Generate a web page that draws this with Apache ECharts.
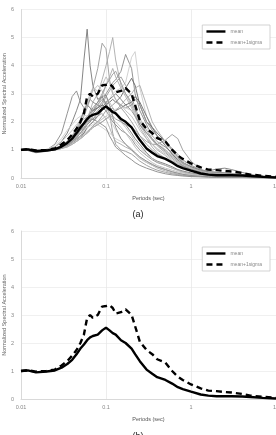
<!DOCTYPE html>
<html><head><meta charset="utf-8">
<script src="https://cdn.jsdelivr.net/npm/echarts@6/dist/echarts.min.js"></script>
<style>html,body{margin:0;padding:0;background:#fff}#c{width:276px;height:435px}</style>
</head><body><div id="c"></div>
<script>
const periods = [0.01,0.012,0.015,0.02,0.025,0.03,0.035,0.04,0.045,0.05,0.055,0.06,0.065,0.07,0.08,0.09,0.1,0.11,0.12,0.13,0.15,0.17,0.2,0.22,0.25,0.3,0.35,0.4,0.5,0.6,0.7,0.8,1.0,1.3,1.6,2,2.5,3,4,5,7,10];
const meanVals = [1.0,1.02,0.95,0.98,1.02,1.12,1.25,1.4,1.6,1.8,1.95,2.1,2.2,2.25,2.3,2.45,2.55,2.45,2.35,2.3,2.1,2.0,1.8,1.6,1.35,1.05,0.9,0.78,0.68,0.55,0.42,0.35,0.26,0.16,0.12,0.1,0.1,0.1,0.09,0.07,0.04,0.02];
const meanSigmaVals = [1.0,1.03,0.98,1.0,1.05,1.2,1.35,1.55,1.75,2.0,2.3,2.9,3.0,2.9,3.0,3.3,3.32,3.35,3.25,3.05,3.1,3.2,3.0,2.6,2.05,1.75,1.6,1.42,1.3,1.0,0.8,0.68,0.52,0.38,0.3,0.28,0.25,0.23,0.18,0.12,0.08,0.04];
const rec01 = [1.0,1.0,0.95,1.0,1.1,1.3,1.6,2.0,2.4,2.8,4.2,5.3,4.0,3.3,2.8,2.9,2.6,2.4,2.5,2.3,2.0,1.9,1.6,1.4,1.2,0.9,0.7,0.6,0.5,0.4,0.3,0.25,0.18,0.12,0.09,0.08,0.07,0.06,0.05,0.04,0.03,0.02];
const rec02 = [1.0,1.02,0.98,1.0,1.05,1.15,1.3,1.5,1.7,1.9,2.2,2.5,2.8,3.2,3.9,4.8,4.6,3.5,3.0,2.8,2.5,2.3,2.0,1.8,1.5,1.2,1.0,0.85,0.7,0.55,0.45,0.35,0.25,0.17,0.12,0.1,0.09,0.08,0.07,0.05,0.03,0.02];
const rec03 = [1.0,1.0,0.97,1.0,1.05,1.1,1.2,1.35,1.5,1.7,1.9,2.1,2.4,2.7,3.0,3.5,4.0,4.5,5.0,4.2,3.3,3.0,2.6,2.3,1.9,1.5,1.2,1.0,0.8,0.6,0.5,0.4,0.3,0.2,0.15,0.12,0.1,0.09,0.07,0.05,0.03,0.02];
const rec04 = [1.0,1.0,0.96,0.98,1.02,1.1,1.2,1.35,1.5,1.7,1.9,2.0,2.2,2.3,2.5,2.7,3.0,3.2,3.4,3.5,3.8,4.4,3.9,3.0,2.4,1.9,1.5,1.3,1.1,0.9,0.7,0.55,0.4,0.25,0.18,0.15,0.13,0.12,0.1,0.08,0.05,0.03];
const rec05 = [1.0,1.0,0.98,1.0,1.02,1.08,1.15,1.25,1.35,1.5,1.6,1.75,1.9,2.0,2.2,2.4,2.6,2.8,3.0,3.1,3.2,3.4,4.3,4.5,3.2,2.2,1.7,1.5,1.2,1.0,0.8,0.6,0.45,0.3,0.2,0.17,0.15,0.13,0.1,0.08,0.05,0.03];
const rec06 = [1.0,1.05,1.0,1.0,1.2,1.6,2.3,2.9,3.1,2.7,2.5,2.6,2.8,2.7,2.6,2.5,2.4,2.2,2.0,1.9,1.7,1.6,1.4,1.2,1.0,0.8,0.65,0.55,0.45,0.35,0.28,0.22,0.15,0.1,0.08,0.07,0.06,0.05,0.04,0.03,0.02,0.01];
const rec07 = [1.0,1.02,0.95,0.98,1.0,1.1,1.2,1.3,1.4,1.5,1.6,1.8,1.9,2.0,2.2,2.4,2.6,2.7,2.8,2.7,2.9,3.2,3.55,3.3,2.6,2.0,1.8,1.6,1.3,1.0,0.75,0.55,0.4,0.28,0.22,0.2,0.18,0.15,0.12,0.09,0.06,0.03];
const rec08 = [1.0,1.0,0.95,0.97,1.0,1.05,1.1,1.2,1.3,1.4,1.5,1.6,1.7,1.8,1.9,2.0,2.1,2.2,2.2,2.1,2.0,1.9,1.8,1.7,1.5,1.3,1.2,1.2,1.35,1.55,1.4,1.0,0.6,0.3,0.2,0.15,0.12,0.1,0.08,0.06,0.04,0.02];
const rec09 = [1.0,1.0,0.96,0.98,1.02,1.1,1.25,1.4,1.6,1.8,2.0,2.2,2.3,2.4,2.6,2.8,2.7,2.3,1.6,1.2,1.0,0.95,0.85,0.75,0.6,0.45,0.35,0.28,0.2,0.15,0.12,0.1,0.07,0.05,0.04,0.03,0.03,0.02,0.02,0.01,0.01,0.01];
const rec10 = [1.0,1.0,0.98,1.0,1.05,1.15,1.3,1.45,1.6,1.7,1.8,1.9,2.0,2.1,2.2,2.3,2.1,1.8,1.5,1.3,1.2,1.1,1.0,0.85,0.7,0.55,0.45,0.35,0.25,0.18,0.14,0.1,0.08,0.06,0.05,0.04,0.03,0.03,0.02,0.02,0.01,0.01];
const rec11 = [1.0,1.0,0.97,1.0,1.1,1.3,1.5,1.7,1.9,2.0,2.1,2.2,2.3,2.4,2.5,2.6,2.5,2.3,2.1,2.0,1.8,1.6,1.3,1.1,0.9,0.7,0.55,0.45,0.35,0.28,0.22,0.18,0.12,0.09,0.07,0.06,0.05,0.05,0.04,0.03,0.02,0.01];
const rec12 = [1.0,0.98,0.9,0.95,1.0,1.05,1.15,1.3,1.45,1.6,1.75,1.9,2.0,2.1,2.3,2.5,2.7,2.8,2.9,3.0,2.8,2.6,2.4,2.2,1.9,1.6,1.4,1.2,1.0,0.8,0.6,0.45,0.3,0.22,0.25,0.32,0.35,0.3,0.2,0.12,0.07,0.03];
const rec13 = [1.0,1.0,0.98,1.02,1.15,1.4,1.7,1.9,2.1,2.2,2.25,2.2,2.1,2.0,1.9,1.8,1.7,1.6,1.5,1.4,1.3,1.2,1.05,0.9,0.75,0.6,0.5,0.4,0.3,0.22,0.17,0.13,0.09,0.07,0.06,0.05,0.04,0.04,0.03,0.02,0.02,0.01];
const rec14 = [1.0,1.0,0.95,1.0,1.03,1.1,1.2,1.3,1.45,1.6,1.7,1.9,2.0,2.2,2.4,2.6,2.9,3.1,3.3,3.4,3.6,3.3,2.9,2.5,2.1,1.7,1.4,1.2,0.95,0.75,0.6,0.45,0.32,0.22,0.17,0.15,0.13,0.12,0.1,0.08,0.05,0.03];
const rec15 = [1.0,1.0,0.97,1.0,1.03,1.1,1.2,1.3,1.4,1.5,1.7,1.9,2.1,2.3,2.6,2.9,3.3,3.6,3.9,3.6,3.2,2.9,2.5,2.2,1.8,1.4,1.1,0.9,0.7,0.55,0.42,0.33,0.23,0.15,0.11,0.09,0.08,0.07,0.06,0.05,0.03,0.02];
const rec16 = [1.0,1.0,0.97,1.0,1.05,1.15,1.3,1.5,1.7,1.85,1.95,2.0,2.05,2.1,2.0,1.9,1.8,1.5,1.3,1.1,0.95,0.8,0.65,0.55,0.45,0.35,0.28,0.22,0.15,0.11,0.09,0.07,0.05,0.04,0.03,0.03,0.02,0.02,0.02,0.01,0.01,0.01];
const rec17 = [1.0,1.0,0.96,1.0,1.05,1.15,1.3,1.5,1.8,2.1,2.4,2.7,3.0,3.2,3.1,3.3,3.6,3.4,3.0,2.8,2.6,2.4,2.2,2.0,1.7,1.4,1.2,1.05,0.85,0.65,0.5,0.4,0.28,0.18,0.13,0.11,0.1,0.09,0.07,0.05,0.03,0.02];
const rec18 = [1.0,1.0,0.95,0.98,1.02,1.1,1.25,1.45,1.7,2.0,2.4,2.6,2.5,2.4,2.5,2.6,2.5,2.4,2.3,2.4,2.5,2.6,2.7,2.9,2.7,2.2,1.8,1.5,1.15,0.85,0.65,0.5,0.35,0.22,0.16,0.14,0.12,0.11,0.09,0.07,0.04,0.02];
const rec19 = [1.0,1.0,0.98,1.0,1.05,1.12,1.22,1.35,1.5,1.6,1.7,1.8,1.85,1.9,2.0,2.1,2.2,2.1,1.9,1.7,1.4,1.2,1.0,0.85,0.7,0.55,0.45,0.38,0.3,0.24,0.19,0.15,0.1,0.07,0.06,0.05,0.04,0.04,0.03,0.02,0.02,0.01];
const rec20 = [1.0,1.0,0.97,1.0,1.03,1.08,1.15,1.25,1.35,1.45,1.55,1.65,1.75,1.85,2.0,2.2,2.4,2.5,2.6,2.7,2.6,2.5,2.6,2.8,2.6,2.0,1.7,1.5,1.3,1.05,0.85,0.65,0.45,0.3,0.24,0.2,0.18,0.15,0.12,0.09,0.05,0.03];
const rec21 = [1.0,1.0,0.97,1.0,1.05,1.15,1.3,1.5,1.75,2.0,2.3,2.6,2.9,3.1,3.3,3.1,2.9,2.7,2.5,2.3,2.0,1.8,1.5,1.3,1.1,0.85,0.7,0.58,0.45,0.35,0.27,0.21,0.15,0.1,0.08,0.07,0.06,0.06,0.05,0.04,0.02,0.01];
const rec22 = [1.0,1.0,0.96,0.99,1.03,1.1,1.2,1.3,1.45,1.6,1.8,2.0,2.2,2.4,2.7,3.0,3.3,3.5,3.7,3.8,3.4,3.0,2.7,2.4,2.0,1.6,1.35,1.15,0.9,0.7,0.55,0.42,0.3,0.2,0.15,0.13,0.12,0.11,0.09,0.07,0.04,0.02];
const rec23 = [1.0,1.0,0.98,1.0,1.02,1.06,1.12,1.2,1.3,1.4,1.5,1.6,1.7,1.8,1.95,2.1,2.2,2.3,2.4,2.45,2.5,2.5,2.4,2.3,2.1,1.8,1.5,1.3,1.0,0.8,0.6,0.48,0.35,0.24,0.18,0.15,0.13,0.12,0.1,0.07,0.04,0.02];
const rec24 = [1.0,1.0,0.95,0.98,1.03,1.12,1.25,1.4,1.55,1.7,1.9,2.1,2.3,2.5,2.7,2.9,2.95,2.6,2.2,1.8,1.4,1.2,1.0,0.9,0.75,0.6,0.48,0.4,0.3,0.22,0.17,0.13,0.09,0.06,0.05,0.04,0.04,0.03,0.03,0.02,0.01,0.01];
const rec25 = [1.0,1.0,0.97,1.0,1.02,1.06,1.12,1.2,1.3,1.4,1.5,1.6,1.7,1.8,1.9,2.0,2.1,2.2,2.3,2.4,2.6,2.8,3.0,3.2,3.3,2.6,2.0,1.7,1.3,1.0,0.75,0.55,0.38,0.25,0.19,0.16,0.14,0.12,0.1,0.07,0.04,0.02];
const records = [rec01,rec02,rec03,rec04,rec05,rec06,rec07,rec08,rec09,rec10,rec11,rec12,rec13,rec14,rec15,rec16,rec17,rec18,rec19,rec20,rec21,rec22,rec23,rec24,rec25];
const recordGrays = ['#777','#999','#aaa','#888','#ccc','#888','#666','#999','#999','#aaa','#bbb','#777','#ccc','#999','#aaa','#888','#bbb','#666','#ccc','#999','#bbb','#999','#ccc','#888','#aaa'];
const yTicks = [0,1,2,3,4,5,6];
const legendNames = ['mean','mean+1sigma'];

const pairs = v => periods.map((p,i)=>[p,v[i]]);
const chart = echarts.init(document.getElementById('c'), null, {renderer:'canvas'});
const font = 'Liberation Sans, Arial, sans-serif';
const gridBase = {containLabel:false, outerBoundsMode:'none'};
const grids = [{...gridBase, left:21, top:9.5, right:0, height:168.5},{...gridBase, left:21, top:231, right:0, height:168}];
function xAx(i){return {type:'log', gridIndex:i, min:0.01, max:10, logBase:10,
  name:'Periods (sec)', nameLocation:'middle', nameGap:17, nameMoveOverlap:false,
  nameTextStyle:{fontSize:5.5, color:'#555', fontFamily:font},
  axisLine:{show:true, lineStyle:{color:'#d9d9d9', width:1}}, axisTick:{show:false},
  axisLabel:{fontSize:5.5, color:'#888', margin:5, fontFamily:font, formatter:v=>String(+v.toPrecision(3))},
  splitLine:{show:true, lineStyle:{color:'#e8e8e8', width:0.8}}};}
function yAx(i){return {type:'value', gridIndex:i, min:0, max:6, interval:1,
  name:'Normalized Spectral Acceleration', nameLocation:'middle', nameGap:14, nameMoveOverlap:false,
  nameTextStyle:{fontSize:5.5, color:'#666', fontFamily:font},
  axisLine:{show:true, lineStyle:{color:'#d9d9d9', width:1}}, axisTick:{show:false},
  axisLabel:{fontSize:5.5, color:'#888', margin:7, fontFamily:font},
  splitLine:{show:true, lineStyle:{color:'#ececec', width:0.8}}};}
const series = [];
records.forEach((r,k)=>series.push({type:'line', xAxisIndex:0, yAxisIndex:0, data:pairs(r), symbol:'none', silent:true,
  lineStyle:{color:recordGrays[k], width:0.9}, z:1}));
[0,1].forEach(g=>{
  series.push({name:legendNames[0], type:'line', xAxisIndex:g, yAxisIndex:g, data:pairs(meanVals), symbol:'none',
    lineStyle:{color:'#000', width:2.4}, itemStyle:{color:'#000'}, z:3});
  series.push({name:legendNames[1], type:'line', xAxisIndex:g, yAxisIndex:g, data:pairs(meanSigmaVals), symbol:'none',
    lineStyle:{color:'#000', width:2.4, type:[6,4]}, itemStyle:{color:'#000'}, z:3});
});
const leg = (top)=>({data:legendNames, orient:'vertical', right:6, top:top, itemWidth:19, itemHeight:6, itemGap:6,
  borderColor:'#c8c8c8', borderWidth:0.8, padding:[4,8,4,3], backgroundColor:'#fff',
  textStyle:{fontSize:5, color:'#888', fontFamily:font}, selectedMode:false,
  itemStyle:{opacity:0}, lineStyle:{width:2.4}});
chart.setOption({
  animation:false,
  grid:grids,
  xAxis:[xAx(0),xAx(1)],
  yAxis:[yAx(0),yAx(1)],
  legend:[leg(25), leg(247)],
  title:[{text:'(a)', left:'center', top:205, textStyle:{fontSize:9, fontWeight:'normal', color:'#222', fontFamily:font}},
         {text:'(b)', left:'center', top:427, textStyle:{fontSize:9, fontWeight:'normal', color:'#222', fontFamily:font}}],
  series:series
});
</script></body></html>
